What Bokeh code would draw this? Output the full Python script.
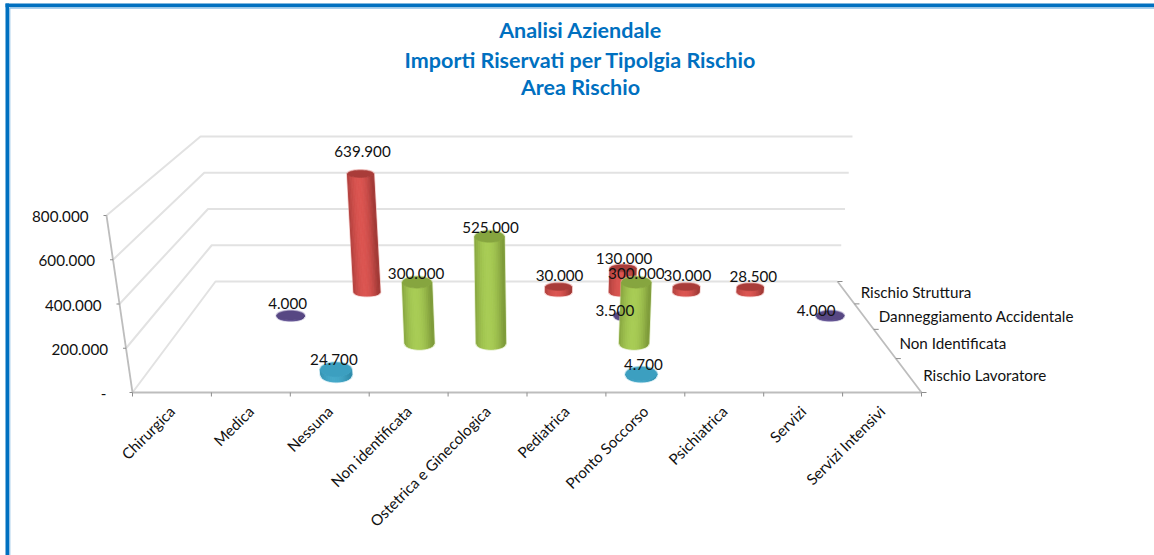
import math
from bokeh.plotting import figure
from bokeh.models import Range1d
from bokeh.core.properties import value
from bokeh.embed import file_html
from bokeh.resources import INLINE

# ---- data ----
title_lines = ["Analisi Aziendale", "Importi Riservati per Tipolgia Rischio", "Area Rischio"]
categories = ["Chirurgica", "Medica", "Nessuna", "Non identificata", "Ostetrica e Ginecologica",
              "Pediatrica", "Pronto Soccorso", "Psichiatrica", "Servizi", "Servizi Intensivi"]
series_names = ["Rischio Struttura", "Danneggiamento Accidentale", "Non Identificata", "Rischio Lavoratore"]
value_ticks = [0, 200000, 400000, 600000, 800000]
value_tick_labels = ["-", "200.000", "400.000", "600.000", "800.000"]

rischio_struttura = {"Nessuna": 639900, "Pediatrica": 30000, "Pronto Soccorso": 130000,
                     "Psichiatrica": 30000, "Servizi": 28500}
danneggiamento = {"Medica": 4000, "Pronto Soccorso": 3500, "Servizi Intensivi": 4000}
non_identificata = {"Non identificata": 300000, "Ostetrica e Ginecologica": 525000, "Pronto Soccorso": 300000}
rischio_lavoratore = {"Nessuna": 24700, "Pronto Soccorso": 4700}
all_series = [rischio_struttura, danneggiamento, non_identificata, rischio_lavoratore]

# ---- styles ----
# (side shade, centre shade, top cap, halo)
palette = [("#A33A37", "#DB5551", "#A93C39", "#E79A98"),
           ("#4A3D78", "#6A5A9A", "#574783", "#A79FC4"),
           ("#7F9C3A", "#A8CC55", "#86A53F", "#C4DA93"),
           ("#2F8CAB", "#45A9C9", "#3C9FC0", "#A0D4E6")]
label_offsets = {(0, "Nessuna"): (2, -22), (0, "Pediatrica"): (1, -11), (0, "Pronto Soccorso"): (1, -10),
                 (0, "Psichiatrica"): (1, -11), (0, "Servizi"): (3, -11),
                 (1, "Medica"): (-3, -12), (1, "Pronto Soccorso"): (-13, -5), (1, "Servizi Intensivi"): (-14, -5),
                 (2, "Non identificata"): (-1, -9), (2, "Ostetrica e Ginecologica"): (1, -9),
                 (2, "Pronto Soccorso"): (0, -9),
                 (3, "Nessuna"): (-2, -10), (3, "Pronto Soccorso"): (2, -9)}
FONT = value("Lato")
W, H = 1154, 555
VMAX = 800000


def depth_t(d):
    s = d / 4
    return s / (s + 1.32 * (1 - s))


def proj(c, d, v):
    t = depth_t(d)
    f = v / VMAX
    xl = (215 - 83 * t) * (1 - f) + (200 - 94 * t) * f
    xr = (837 + 84 * t) * (1 - f) + (852 + 94 * t) * f
    return xl + (xr - xl) * c / 10, 281 + 111 * t - (145 + 32 * t) * f


def mix(a, b, u):
    ca = [int(a[i:i + 2], 16) for i in (1, 3, 5)]
    cb = [int(b[i:i + 2], 16) for i in (1, 3, 5)]
    return "#%02x%02x%02x" % tuple(round(x + (y - x) * u) for x, y in zip(ca, cb))


p = figure(width=W, height=H, x_range=Range1d(0, W), y_range=Range1d(H, 0),
           output_backend="svg", toolbar_location=None,
           min_border=0, outline_line_color=None, background_fill_color="white",
           border_fill_color="white")
p.axis.visible = False
p.grid.visible = False

# frame of the picture
p.quad(left=[5, 5], right=[8.5, W], top=[3, 3], bottom=[H, 6.8], fill_color="#0070C0", line_color=None)
p.segment(x0=[9.2, 9.2], y0=[H, 7.5], x1=[9.2, W], y1=[7.5, 7.5], line_color="#8FC0E6", line_width=1.3)

# walls
GRID = "#E2E2E2"
for v in value_ticks:
    x0, y0 = proj(0, 4, v)
    x1, y1 = proj(0, 0, v)
    x2, y2 = proj(10, 0, v)
    p.line([x0, x1, x2], [y0, y1, y2], line_color=GRID, line_width=2)

# axes
AXIS = "#BDBDBD"
TICK = "#8C8C8C"
fx = [proj(0, 4, v)[0] for v in (0, VMAX)]
fy = [proj(0, 4, v)[1] for v in (0, VMAX)]
p.line(fx, fy, line_color=AXIS, line_width=1.8)
xf0, yf0 = proj(0, 4, 0)
xf1, yf1 = proj(10, 4, 0)
xb1, yb1 = proj(10, 0, 0)
p.line([xf0, xf1, xb1], [yf0, yf1, yb1], line_color=AXIS, line_width=1.8)
for v in value_ticks:
    x, y = proj(0, 4, v)
    p.segment(x - 3, y, x, y, line_color=TICK, line_width=1)
for i in range(len(categories) + 1):
    x, y = proj(i, 4, 0)
    p.segment(x, y, x, y + 4, line_color=TICK, line_width=1)
for i in range(len(series_names) + 1):
    x, y = proj(10, i, 0)
    p.segment(x, y, x + 5, y, line_color=TICK, line_width=1)

# tick labels
LAB = "15.2px"
for v, lab in zip(value_ticks, value_tick_labels):
    x, y = proj(0, 4, v)
    p.text([x - 18 if v else x - 26], [y + 1], text=[lab], text_align="right", text_baseline="middle",
           text_font=FONT, text_font_size=LAB, text_color="#111111")
for i, c in enumerate(categories):
    x, y = proj(i + 0.5, 4, 0)
    p.text([x], [y + 16], text=[c], text_align="right", text_baseline="middle", angle=math.pi / 4,
           text_font=FONT, text_font_size=LAB, text_color="#111111")
for i, s in enumerate(series_names):
    x, y = proj(10, i + 0.5, 0)
    p.text([x + 15], [y], text=[s], text_align="left", text_baseline="middle",
           text_font=FONT, text_font_size=LAB, text_color="#111111")


def cylinder(c, d, v, cols):
    side, mid, cap, halo = cols
    t = depth_t(d)
    bx, by = proj(c, d, 0)
    tx, ty = proj(c, d, v)
    xl, _ = proj(0, d, 0)
    xr, _ = proj(10, d, 0)
    rx = (xr - xl) / 10 * 0.205
    ry = 3.2 + 4.6 * t
    n = 16
    us = [-1 + 2 * k / n for k in range(n + 1)]
    ring = [2 * math.pi * k / 40 for k in range(41)]
    # halo outline
    hx = [tx + rx * math.cos(a) for a in ring[20:]] + [bx + rx * math.cos(a) for a in ring[:21]]
    hy = [ty + ry * math.sin(a) for a in ring[20:]] + [by + ry * math.sin(a) for a in ring[:21]]
    p.patch(hx, hy, fill_color=None, line_color=halo, line_width=2.5, line_alpha=0.55)
    xs, ys, fills = [], [], []
    for a, b in zip(us[:-1], us[1:]):
        m = (a + b) / 2
        sa, sb = math.sqrt(max(1 - a * a, 0)), math.sqrt(max(1 - b * b, 0))
        xs.append([bx + rx * a, bx + rx * b, tx + rx * b, tx + rx * a])
        ys.append([by + ry * sa, by + ry * sb, ty + ry * sb, ty + ry * sa])
        fills.append(mix(side, mid, max(0, 1 - abs(m + 0.1) ** 2)))
    p.patches(xs, ys, fill_color=fills, line_color=fills, line_width=1)
    p.patch([tx + rx * math.cos(a) for a in ring], [ty + ry * math.sin(a) for a in ring],
            fill_color=cap, line_color=cap, line_width=0.5)
    return tx, ty


# bars, back to front
for k, (ser, cols) in enumerate(zip(all_series, palette)):
    for cat, val in ser.items():
        cylinder(categories.index(cat) + 0.5, k + 0.5, val, cols)

# data labels on top
for k, ser in enumerate(all_series):
    for cat, val in ser.items():
        x, y = proj(categories.index(cat) + 0.5, k + 0.5, val)
        dx, dy = label_offsets[(k, cat)]
        p.text([x + dx], [y + dy], text=[f"{val:,}".replace(",", ".")], text_align="center",
               text_baseline="middle", text_font=FONT, text_font_size=LAB, text_color="#111111")

# title
for txt, y in zip(title_lines, (29, 59, 86)):
    p.text([580], [y], text=[txt], text_align="center", text_baseline="middle", text_font=FONT,
           text_font_size="21.5px", text_font_style="bold", text_color="#0070C0")

open("out.html", "w").write(file_html(p, INLINE))
